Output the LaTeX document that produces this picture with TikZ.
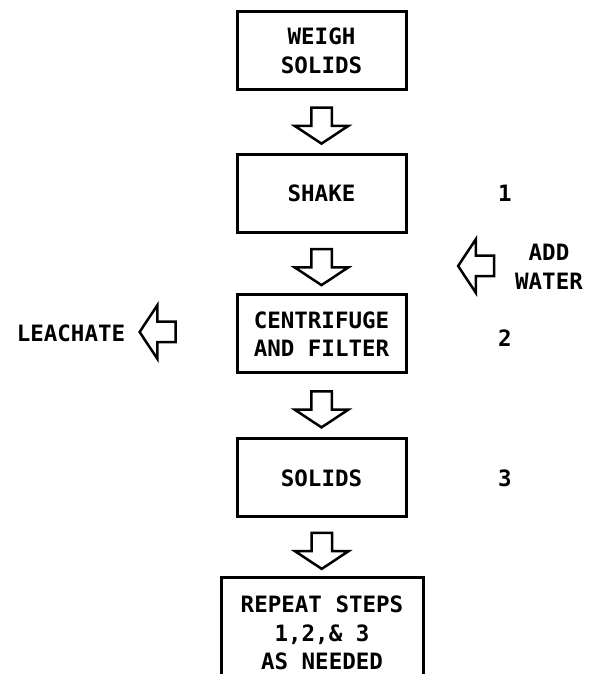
\documentclass[tikz,border=0pt]{standalone}
\usepackage{fontspec}
\setmainfont{DejaVu Sans Mono}
\usetikzlibrary{calc,shapes.arrows}

\tikzset{
  stepbox/.style={draw, line width=3pt, minimum width=169pt, minimum height=78pt, align=center, inner sep=0pt},
  flowdown/.style={draw, line width=2.5pt, single arrow, shape border rotate=270, minimum height=36pt,
    single arrow head extend=16.5pt, single arrow tip angle=113, inner sep=9pt},
  flowleft/.style={flowdown, shape border rotate=180}
}

\begin{document}
\begin{tikzpicture}[x=1pt,y=1pt,every node/.style={font=\fontsize{22.5}{28.5}\selectfont\bfseries}]
\useasboundingbox (0,0) rectangle (589,674);

\node[stepbox] (weigh) at (321.5,623){WEIGH\\SOLIDS};
\node[stepbox] (shake) at (321.5,480.5){SHAKE};
\node[stepbox] (centri) at (321.5,340){CENTRIFUGE\\AND FILTER};
\node[stepbox] (solids) at (321.5,196){SOLIDS};
\node[stepbox, minimum width=202pt, minimum height=110pt] (repeat) at (322,41){REPEAT STEPS\\1,2,\& 3\\AS NEEDED};

%step numbers
\node (one) at (505,481){1};
\node (two) at (505,336){2};
\node (three) at (505,196){3};

%flow arrows
\node[flowdown] (a1) at ($(weigh.south)!.5!(shake.north)$){};
\node[flowdown] (a2) at ($(shake.south)!.5!(centri.north)$){};
\node[flowdown] (a3) at ($(centri.south)!.5!(solids.north)$){};
\node[flowdown] (a4) at ($(solids.south)!.5!(repeat.north)$){};

%side streams
\node[flowleft] (water) at (479.5,408){};
\node[align=center] (addw) at (549,407){ADD\\WATER};
\node[flowleft] (leach) at (161,342){};
\node (leachate) at (71,341){LEACHATE};
\end{tikzpicture}
\end{document}
